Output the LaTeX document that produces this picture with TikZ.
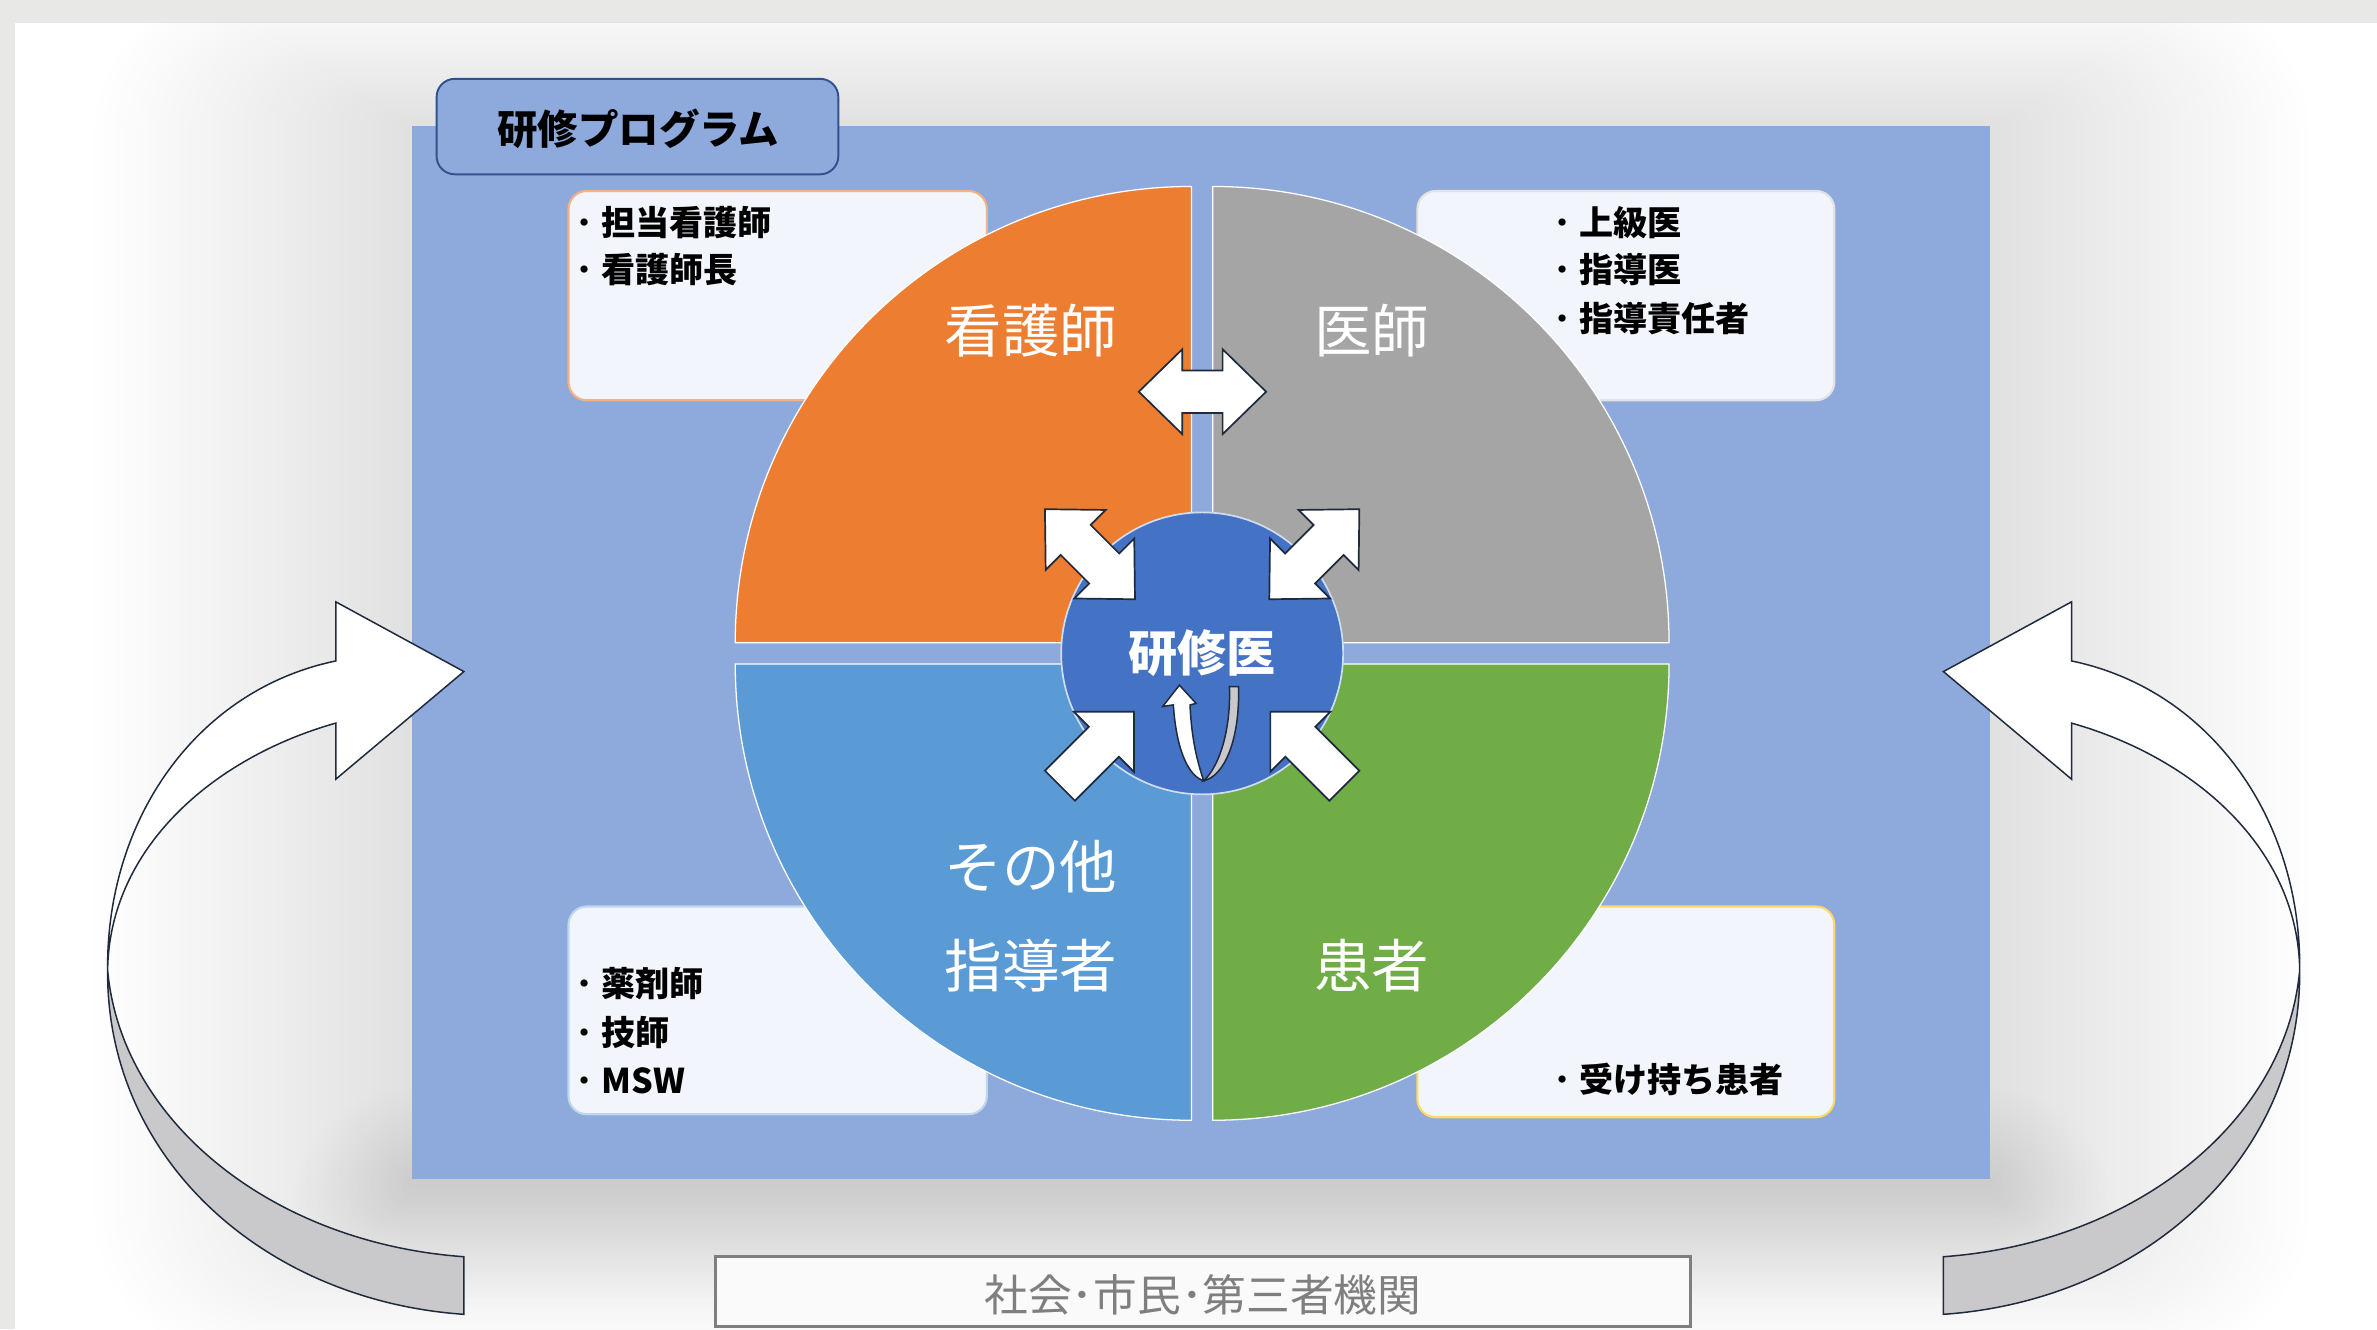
\documentclass[tikz,border=0pt]{standalone}
\usepackage{fontspec}
\setmainfont{Noto Sans CJK JP}
\usetikzlibrary{positioning}

\definecolor{pagegray}{HTML}{E8E8E6}
\definecolor{progblue}{HTML}{8EA9DB}
\definecolor{progline}{HTML}{2F528F}
\definecolor{boxfill}{HTML}{F2F5FB}
\definecolor{nurseorange}{HTML}{ED7D31}
\definecolor{doctorgray}{HTML}{A5A5A5}
\definecolor{otherblue}{HTML}{5B9BD5}
\definecolor{patientgreen}{HTML}{70AD47}
\definecolor{residentblue}{HTML}{4472C4}
\definecolor{nurseline}{HTML}{F4B183}
\definecolor{doctorline}{HTML}{E2E2E2}
\definecolor{otherline}{HTML}{BDD7EE}
\definecolor{patientline}{HTML}{FFD966}
\definecolor{arrowline}{HTML}{1F2A3C}
\definecolor{backgray}{HTML}{C9C9CB}
\definecolor{societygray}{HTML}{7F7F7F}

\tikzset{
  quad/.style={draw=white, line width=0.6pt},
  infobox/.style={fill=boxfill, rounded corners=3mm, line width=1pt},
  item/.style={anchor=west, inner sep=0pt, text=black, font=\fontsize{16}{19}\selectfont\bfseries},
  biglabel/.style={inner sep=0pt, text=white, font=\fontsize{27}{30}\selectfont},
  blockarrow/.style={fill=white, draw=arrowline, line width=0.8pt, line join=miter},
  ribbon/.style={draw=arrowline, line width=0.7pt}
}

\newcommand{\dbarrow}[2]{\draw[blockarrow, shift={#1}, rotate=#2] (-42,0) -- (-13.3,28) -- (-13.3,14) -- (13.3,14) -- (13.3,28) -- (42,0) -- (13.3,-28) -- (13.3,-14) -- (-13.3,-14) -- (-13.3,-28) -- cycle;}
\newcommand{\inarrow}[2]{\draw[blockarrow, shift={#1}, rotate=#2] (0,14) -- (41,14) -- (41,28) -- (69,0) -- (41,-28) -- (41,-14) -- (0,-14) -- cycle;}
\newcommand{\itemdot}{{\mdseries ・}}

\begin{document}
\begin{tikzpicture}[x=0.25mm, y=0.25mm]
  \useasboundingbox (0,0) rectangle (1568,-877);
  \fill[pagegray] (0,0) rectangle (1568,-877);
  \fill[white] (10,-15) rectangle (1568,-877);
  \begin{scope}
    \clip (10,-15) rectangle (1568,-877);
    \foreach \i in {1,...,30}
      \fill[black, opacity=0.0045, rounded corners=\i*0.8mm] (272-7*\i,-83+3*\i) rectangle (1313+7*\i,-790-3.5*\i);
    \foreach \i in {1,...,20}
      \fill[black, opacity=0.005, rounded corners=\i*1mm] (272-4*\i,-778+3*\i) rectangle (1313+4*\i,-780-4*\i);
  \end{scope}

  \fill[progblue] (272,-83) rectangle (1313,-778);
  \draw[progline, fill=progblue, line width=0.9pt, rounded corners=3mm] (288,-52) rectangle (553,-115);
  \node[font=\fontsize{19}{22}\selectfont\bfseries] (prog) at (421,-85) {研修プログラム};

  \draw[infobox, draw=nurseline] (375,-126) rectangle (651,-264);
  \draw[infobox, draw=doctorline] (935,-126) rectangle (1210,-264);
  \draw[infobox, draw=otherline] (375,-598) rectangle (651,-735);
  \draw[infobox, draw=patientline] (935,-598) rectangle (1210,-737);

  \node[item] (tl1) at (374,-147) {\itemdot 担当看護師};
  \node[item] (tl2) at (374,-178) {\itemdot 看護師長};
  \node[item] (tr1) at (1019,-147) {\itemdot 上級医};
  \node[item] (tr2) at (1019,-178) {\itemdot 指導医};
  \node[item] (tr3) at (1019,-210) {\itemdot 指導責任者};
  \node[item] (bl1) at (374,-649) {\itemdot 薬剤師};
  \node[item] (bl2) at (374,-681) {\itemdot 技師};
  \node[item] (bl3) at (374,-713) {\itemdot MSW};
  \node[item] (br1) at (1019,-712) {\itemdot 受け持ち患者};

  \filldraw[quad, fill=nurseorange] (786,-424) -- ++(-301,0) arc[start angle=180, end angle=90, radius=301] -- cycle;
  \filldraw[quad, fill=doctorgray] (800,-424) -- ++(0,301) arc[start angle=90, end angle=0, radius=301] -- cycle;
  \filldraw[quad, fill=otherblue] (786,-438) -- ++(0,-301) arc[start angle=270, end angle=180, radius=301] -- cycle;
  \filldraw[quad, fill=patientgreen] (800,-438) -- ++(301,0) arc[start angle=0, end angle=-90, radius=301] -- cycle;

  \node[biglabel] (kango) at (680,-218) {看護師};
  \node[biglabel] (ishi) at (905,-218) {医師};
  \node[biglabel] (sonota) at (680,-572) {その他};
  \node[biglabel] (shidou) at (680,-637) {指導者};
  \node[biglabel] (kanja) at (905,-637) {患者};

  \node[circle, fill=residentblue, draw=white!75!residentblue, line width=0.8pt, minimum size=46.5mm, inner sep=0pt,
        text=white, font=\fontsize{23}{26}\selectfont\bfseries] (kenshu) at (793,-431) {研修医};

  \dbarrow{(793.2,-258.4)}{0}
  \dbarrow{(719,-365.6)}{-45}
  \dbarrow{(867,-365.6)}{45}
  \inarrow{(699.2,-518.3)}{45}
  \inarrow{(886.8,-518.3)}{135}

  \filldraw[ribbon, fill=backgray] (794,-515) .. controls (805,-505) and (812,-480) .. (811,-453) -- (817,-453) .. controls (818,-487) and (808,-512) .. (794,-515) -- cycle;
  \filldraw[ribbon, fill=white] (774,-465) .. controls (776,-495) and (784,-512) .. (794,-515) .. controls (790,-503) and (786,-488) .. (785,-465) -- (789,-464) -- (778,-452) -- (767,-466) -- cycle;

  \foreach \side in {1,-1} {
    \begin{scope}[shift={(794,0)}, xscale=\side, shift={(-794,0)}]
      \filldraw[ribbon, fill=backgray] (71,-640) .. controls (70,-765) and (175,-858) .. (306,-867) -- (306,-829) .. controls (180,-820) and (80,-740) .. (71,-640) -- cycle;
      \filldraw[ribbon, fill=white] (221.5,-436) -- (221.5,-397) -- (306,-443) -- (221.5,-514) -- (221.5,-477) .. controls (140,-500) and (72,-560) .. (71,-640) .. controls (70,-540) and (130,-455) .. (221.5,-436) -- cycle;
    \end{scope}
  }

  \draw[societygray, fill=white!98!black, line width=1.2pt] (472,-829) rectangle (1115,-875);
  \node[text=societygray, font=\fontsize{20.5}{24}\selectfont] (society) at (793.5,-854) {社会･市民･第三者機関};
\end{tikzpicture}
\end{document}
